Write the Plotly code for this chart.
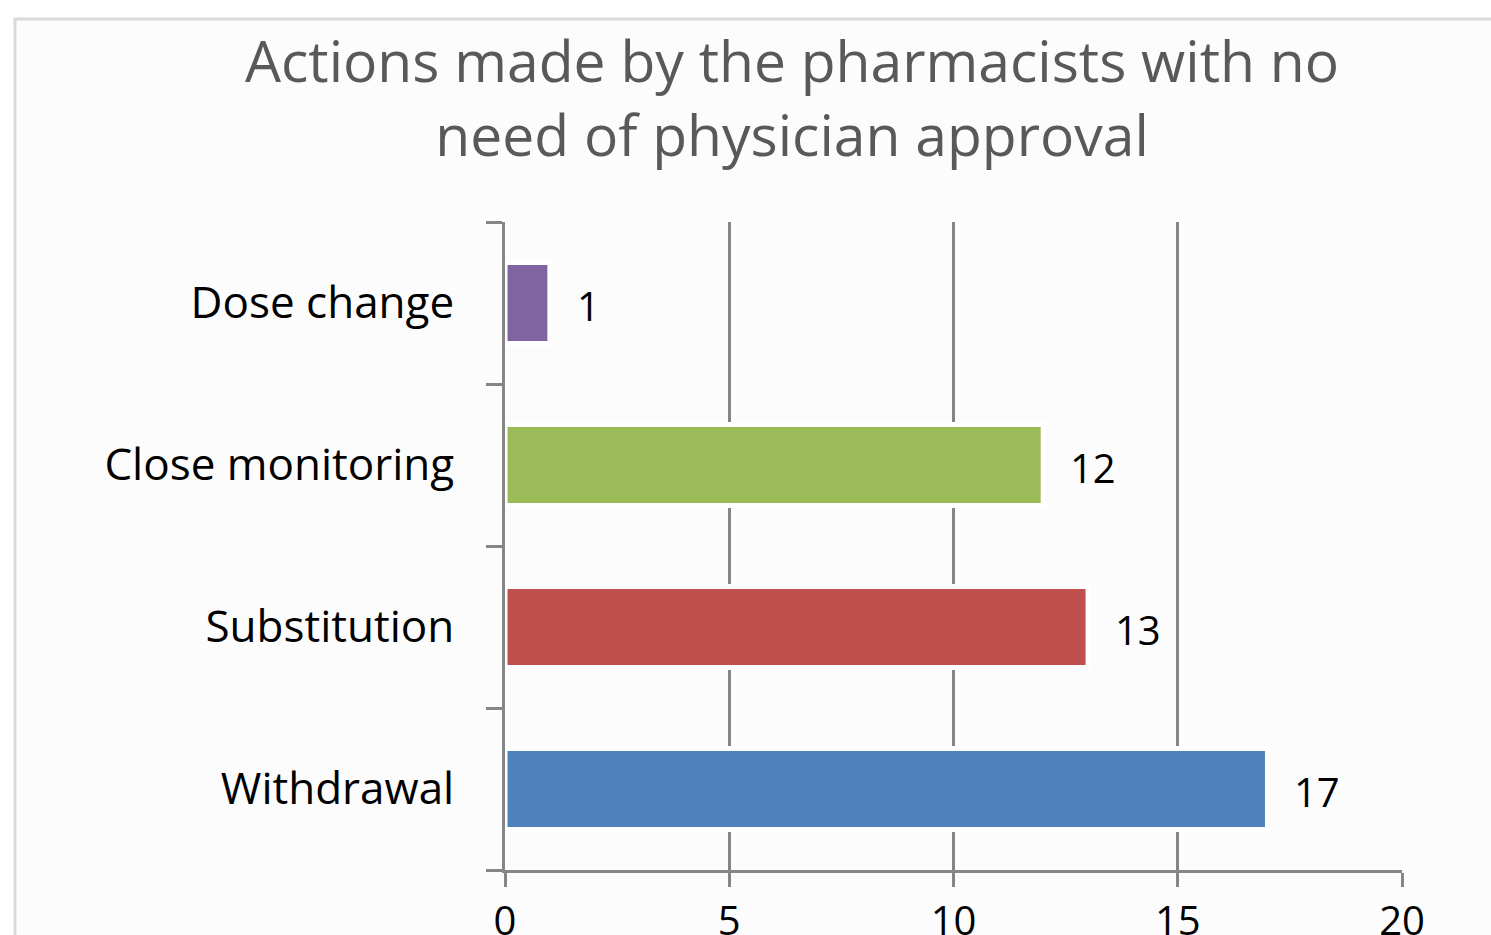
import plotly.graph_objects as go

# Data
categories = ["Withdrawal", "Substitution", "Close monitoring", "Dose change"]
values = [17, 13, 12, 1]
bar_colors = ["#4f81bd", "#c0504d", "#9bbb59", "#8064a2"]
x_ticks = [0, 5, 10, 15, 20]
title_text = "Actions made by the pharmacists with no<br>need of physician approval"

W, H = 1491, 935
L, R, T, B = 505, 89, 222, 65
pw, ph = W - L - R, H - T - B

FONT = "Open Sans"
AX = "#868686"

fig = go.Figure()
fig.add_trace(go.Bar(
    y=categories, x=values, orientation="h",
    marker=dict(color=bar_colors, line=dict(color="#ffffff", width=5)),
    width=0.5, hoverinfo="skip", showlegend=False,
))

annotations = []
for c, v in zip(categories, values):
    annotations.append(dict(
        x=v, y=c, xref="x", yref="y", text=str(v), showarrow=False,
        xanchor="left", yanchor="middle", xshift=25, yshift=-2,
        font=dict(family=FONT, size=40, color="#000000"),
    ))

# chart box (cropped frame)
shapes = [dict(
    type="rect", xref="paper", yref="paper", layer="below",
    x0=(15 - L) / pw, x1=(1700 - L) / pw,
    y0=(H - B - 1100) / ph, y1=(H - B - 19) / ph,
    fillcolor="#fcfcfc", line=dict(color="#d9d9d9", width=3),
)]

fig.update_layout(
    width=W, height=H,
    margin=dict(l=L, r=R, t=T, b=B, autoexpand=False),
    paper_bgcolor="#ffffff", plot_bgcolor="rgba(0,0,0,0)",
    title=dict(text=title_text, x=792 / W, xanchor="center", xref="container",
               y=1 - 82 / H, yanchor="top", yref="container",
               font=dict(family=FONT, size=57, color="#595959")),
    shapes=shapes, annotations=annotations,
    bargap=0.5,
)
fig.update_xaxes(
    range=[0, 20], tickvals=x_ticks, ticktext=[str(t) for t in x_ticks],
    showgrid=True, gridcolor=AX, gridwidth=3, zeroline=False,
    showline=True, linecolor=AX, linewidth=3,
    ticks="outside", ticklen=14, tickwidth=3, tickcolor=AX,
    tickfont=dict(family=FONT, size=40, color="#000000"),
    fixedrange=True,
)
fig.update_yaxes(
    categoryorder="array", categoryarray=categories,
    showgrid=False, zeroline=False,
    showline=True, linecolor=AX, linewidth=3,
    ticks="outside", tickson="boundaries", ticklen=16, tickwidth=3, tickcolor=AX,
    ticklabelstandoff=39,
    tickfont=dict(family=FONT, size=44, color="#000000"),
    fixedrange=True,
)

fig.write_html(
    "out.html",
    config={"displayModeBar": False},
    post_script="document.body.style.margin='0';document.body.style.overflow='hidden';",
)
